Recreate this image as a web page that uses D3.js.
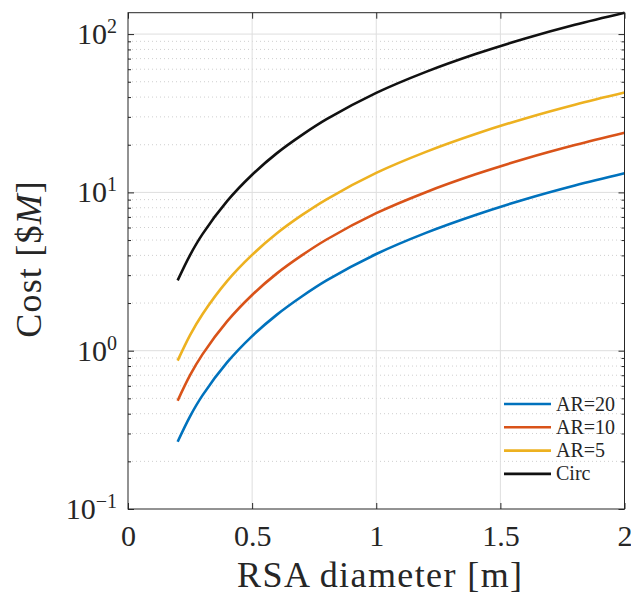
<html>
<head>
<title>RSA cost</title>
<script src="https://cdnjs.cloudflare.com/ajax/libs/d3/7.8.5/d3.min.js"></script>
<style>
  body { margin: 0; background: #fff; }
  text { font-family: "Liberation Serif", "Times New Roman", serif; fill: #262626; }
</style>
</head>
<body>
<svg id="chart" width="631" height="595"></svg>
<script>
// diameter [m]
var diam = [0.2, 0.25, 0.3, 0.4, 0.5, 0.6, 0.7, 0.8, 1.0, 1.2, 1.4, 1.6, 1.8, 2.0];
// cost [$M]
var ar20 = [0.266, 0.385, 0.522, 0.846, 1.237, 1.69, 2.2, 2.78, 4.08, 5.55, 7.2, 9.05, 11.05, 13.2];
var ar10 = [0.483, 0.70, 0.948, 1.537, 2.25, 3.08, 4.0, 5.04, 7.39, 10.03, 13.0, 16.3, 19.9, 23.8];
var ar5  = [0.865, 1.255, 1.70, 2.76, 4.03, 5.52, 7.18, 9.05, 13.28, 18.03, 23.38, 29.33, 35.8, 42.7];
var circ = [2.78, 4.02, 5.45, 8.84, 12.93, 17.7, 23.0, 29.0, 42.5, 57.7, 74.8, 93.8, 114.5, 136.5];

var names = ["AR=20", "AR=10", "AR=5", "Circ"];
var colors = ["#0072BD", "#D95319", "#EDB120", "#111111"];
var seriesVals = [ar20, ar10, ar5, circ];

var xTicks = [0, 0.5, 1, 1.5, 2];
var xTickLabels = ["0", "0.5", "1", "1.5", "2"];
var yTicks = [0.1, 1, 10, 100];
var yTickExp = ["\u22121", "0", "1", "2"];

var pLeft = 128, pRight = 624.5, pTop = 12.7, pBottom = 509;

var svg = d3.select("#chart");

var x = d3.scaleLinear().domain([0, 2]).range([pLeft, pRight]);
var y = d3.scaleLog().domain([0.1, 136.5]).range([pBottom, pTop]);

// minor decades 2..9
var yMinor = [];
[0.1, 1, 10, 100].forEach(function(d) {
  for (var k = 2; k <= 9; k++) {
    var v = d * k;
    if (v <= 136.5) yMinor.push(v);
  }
});

// grid
var grid = svg.append("g");
grid.selectAll("line.minor").data(yMinor).enter().append("line")
  .attr("x1", pLeft).attr("x2", pRight)
  .attr("y1", d => y(d)).attr("y2", d => y(d))
  .attr("stroke", "#cfcfcf").attr("stroke-width", 1)
  .attr("stroke-dasharray", "1,3");
grid.selectAll("line.ymaj").data([1, 10, 100]).enter().append("line")
  .attr("x1", pLeft).attr("x2", pRight)
  .attr("y1", d => y(d)).attr("y2", d => y(d))
  .attr("stroke", "#dedede").attr("stroke-width", 1);
grid.selectAll("line.xmaj").data([0.5, 1, 1.5]).enter().append("line")
  .attr("y1", pTop).attr("y2", pBottom)
  .attr("x1", d => x(d)).attr("x2", d => x(d))
  .attr("stroke", "#dedede").attr("stroke-width", 1);

// curves
var line = d3.line()
  .x(d => x(d[0]))
  .y(d => y(d[1]))
  .curve(d3.curveCatmullRom.alpha(0.5));

svg.append("g").selectAll("path").data(seriesVals).enter().append("path")
  .attr("d", vals => line(vals.map((v, i) => [diam[i], v])))
  .attr("fill", "none")
  .attr("stroke", (d, i) => colors[i])
  .attr("stroke-width", 2.6)
  .attr("stroke-linejoin", "round");

// axes (ticks inward, box on)
function clean(g) { g.select(".domain").remove(); g.selectAll(".tick line").attr("stroke", "#262626"); }

svg.append("g").attr("transform", "translate(0," + pBottom + ")")
  .call(d3.axisBottom(x).tickValues(xTicks).tickSize(-6).tickPadding(16)
        .tickFormat((d, i) => xTickLabels[i]))
  .call(clean)
  .call(g => g.selectAll("text").attr("font-size", 30).attr("fill", "#262626"));
svg.append("g").attr("transform", "translate(0," + pTop + ")")
  .call(d3.axisTop(x).tickValues(xTicks).tickSize(-6).tickFormat(""))
  .call(clean);

svg.append("g").attr("transform", "translate(" + pLeft + ",0)")
  .call(d3.axisLeft(y).tickValues(yTicks).tickSize(-6).tickFormat(""))
  .call(clean);
svg.append("g").attr("transform", "translate(" + pLeft + ",0)")
  .call(d3.axisLeft(y).tickValues(yMinor).tickSize(-3).tickFormat(""))
  .call(clean);
svg.append("g").attr("transform", "translate(" + pRight + ",0)")
  .call(d3.axisRight(y).tickValues(yTicks).tickSize(-6).tickFormat(""))
  .call(clean);
svg.append("g").attr("transform", "translate(" + pRight + ",0)")
  .call(d3.axisRight(y).tickValues(yMinor).tickSize(-3).tickFormat(""))
  .call(clean);

// y tick labels 10^n
var ylab = svg.append("g").selectAll("text").data(yTicks).enter().append("text")
  .attr("x", 117)
  .attr("y", d => y(d) + 10)
  .attr("text-anchor", "end")
  .attr("font-size", 30);
ylab.append("tspan").text("10");
ylab.append("tspan").attr("dy", -11).attr("font-size", 20).text((d, i) => yTickExp[i]);

// frame
svg.append("rect")
  .attr("x", pLeft).attr("y", pTop)
  .attr("width", pRight - pLeft).attr("height", pBottom - pTop)
  .attr("fill", "none").attr("stroke", "#262626").attr("stroke-width", 1);

// axis titles
svg.append("text")
  .attr("x", (pLeft + pRight) / 2 + 4).attr("y", 587)
  .attr("text-anchor", "middle")
  .attr("font-size", 36).attr("letter-spacing", 1.4)
  .text("RSA diameter [m]");

var yt = svg.append("text")
  .attr("transform", "translate(41," + ((pTop + pBottom) / 2 - 2) + ") rotate(-90)")
  .attr("text-anchor", "middle")
  .attr("font-size", 36).attr("letter-spacing", 1.2);
yt.append("tspan").text("Cost [$");
yt.append("tspan").attr("font-style", "italic").text("M");
yt.append("tspan").text("]");

// legend
var leg = svg.append("g").selectAll("g").data(names).enter().append("g")
  .attr("transform", (d, i) => "translate(504," + (404 + i * 23.3) + ")");
leg.append("line")
  .attr("x1", 0).attr("x2", 47)
  .attr("stroke", (d, i) => colors[i]).attr("stroke-width", 2.6);
leg.append("text")
  .attr("x", 52).attr("y", 6.5)
  .attr("font-size", 20)
  .text(d => d);
</script>
</body>
</html>
